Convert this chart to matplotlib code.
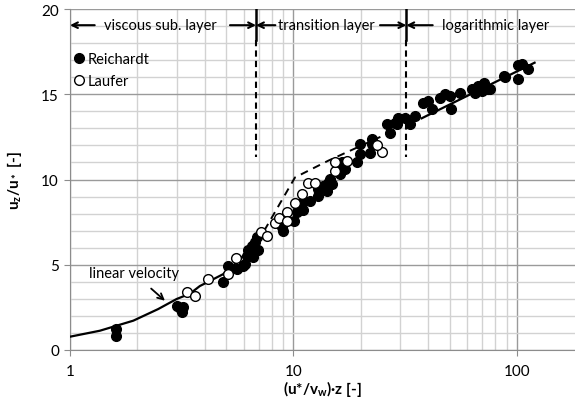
import matplotlib
matplotlib.use("Agg")
import matplotlib.pyplot as plt
from matplotlib.ticker import FixedLocator, NullFormatter

plt.rcParams['font.family'] = ['Lato', 'DejaVu Sans']
plt.rcParams['mathtext.default'] = 'regular'

# Reichardt measurements (u*/v_w)z vs u_z/u*
reich_x = [1.6, 1.6, 3.0, 3.16, 3.22, 3.1, 4.85, 5.11, 5.57, 5.96, 6.07, 6.18, 6.28, 6.61,
           6.96, 6.5, 6.73, 6.84, 8.95, 10.08, 10.4, 8.86, 10.51, 11.06, 10.88, 11.85,
           12.91, 12.91, 14.08, 13.59, 14.31, 14.56, 14.82, 16.14, 16.43, 17.0, 16.43,
           19.18, 19.84, 19.84, 21.98, 22.38, 22.38, 26.1, 27.0, 28.5, 29.4, 28.95, 31.5,
           33.2, 35.0, 38.1, 40.1, 41.5, 45.2, 47.6, 50.1, 50.5, 55.6, 62.7, 64.9, 67.1,
           68.3, 71.2, 74.4, 88.4, 69.5, 75.7, 87.5, 101.4, 101.4, 105, 112.3]
reich_y = [1.23, 0.84, 2.6, 2.2, 2.5, 2.45, 3.97, 4.9, 4.75, 4.94, 5.04, 5.52, 5.88, 5.43,
           5.88, 6.11, 6.34, 6.6, 6.99, 7.57, 8.1, 7.19, 8.22, 8.22, 8.65, 8.75,
           9.04, 9.43, 9.33, 9.63, 9.82, 10.02, 9.72, 10.31, 10.8, 10.6, 11.03,
           11.0, 11.52, 12.07, 11.58, 12.07, 12.36, 13.24, 12.75, 13.34, 13.63, 13.24, 13.63,
           13.24, 13.73, 14.51, 14.6, 14.16, 14.8, 15.0, 14.9, 14.16, 15.06, 15.29, 15.1, 15.48,
           15.29, 15.68, 15.33, 16.03, 15.19, 15.33, 16.07, 15.88, 16.7, 16.75, 16.46]

# Laufer measurements
laufer_x = [3.35, 3.62, 4.16, 5.11, 5.51, 7.15, 7.63, 8.27, 8.64, 9.32, 9.32, 10.15,
            10.88, 11.65, 12.48, 15.34, 15.34, 17.3, 24.8, 23.56]
laufer_y = [3.38, 3.18, 4.16, 4.45, 5.39, 6.95, 6.7, 7.44, 7.72, 8.07, 7.57, 8.61,
            9.14, 9.82, 9.82, 10.5, 11.0, 11.09, 11.64, 12.01]

# viscous sub-layer curve
visc_x = [1.0, 1.36, 1.92, 2.48, 3.0, 3.44, 3.81, 4.85, 5.47, 6.2, 6.8]
visc_y = [0.78, 1.13, 1.72, 2.40, 2.99, 3.3, 3.75, 4.45, 5.04, 5.75, 6.35]

# transition layer curve
trans_x = [7.4, 10.16, 14.3, 24.5]
trans_y = [7.0, 10.12, 11.1, 12.5]

# logarithmic layer line
log_x = [37.5, 120]
log_y = [13.59, 16.85]

# layer boundaries
bounds = [6.8, 32]

fig = plt.figure(figsize=(5.75, 4.02), dpi=100)
ax = fig.add_axes([70 / 575, 1 - 351 / 402, 1 - 70 / 575, (351 - 10) / 402])

ax.set_xscale('log')
ax.set_xlim(1, 182)
ax.set_ylim(0, 20)

major_x = [1, 10, 100]
minor_x = [m * d for d in (1, 10, 100) for m in range(2, 10)]
ax.xaxis.set_major_locator(FixedLocator(major_x))
ax.xaxis.set_minor_locator(FixedLocator(minor_x))
ax.xaxis.set_minor_formatter(NullFormatter())
ax.set_xticklabels(['1', '10', '100'])
ax.set_yticks([0, 5, 10, 15, 20])
ax.set_yticks(range(0, 21), minor=True)

ax.grid(True, which='major', color='#9a9a9a', linewidth=1.0)
ax.grid(True, which='minor', color='#d2d2d2', linewidth=1.0)
ax.set_axisbelow(True)
for s in ('top', 'right'):
    ax.spines[s].set_visible(False)
for s in ('left', 'bottom'):
    ax.spines[s].set_color('#8c8c8c')
ax.tick_params(which='major', length=4, color='#8c8c8c', labelsize=11, pad=4)
ax.tick_params(which='minor', length=0)
ax.tick_params(axis='x', pad=6)

ax.plot(visc_x, visc_y, color='black', lw=1.6, zorder=3)
ax.plot(trans_x, trans_y, color='black', lw=1.4, ls=(0, (4, 3)), zorder=3)
ax.plot(log_x, log_y, color='black', lw=1.6, zorder=3)

ax.plot(reich_x, reich_y, 'o', color='black', ms=7, label='Reichardt', zorder=4)
ax.plot(laufer_x, laufer_y, 'o', mfc='white', mec='black', mew=1.0, ms=7,
        label='Laufer', zorder=4)

for b in bounds:
    ax.plot([b, b], [20, 18.2], color='black', lw=1.8, zorder=3)
    ax.plot([b, b], [18.2, 11.3], color='black', lw=1.5, ls=(0, (3, 2)), zorder=3)

# layer arrows and labels
arr = dict(arrowstyle='->', color='black', lw=1.5, shrinkA=0, shrinkB=0)
ya = 19.05
for x0, x1 in [(1.29, 1.0), (5.2, 6.8), (8.3, 6.8), (24.4, 32), (42, 32)]:
    ax.annotate('', xy=(x1, ya), xytext=(x0, ya), arrowprops=arr)
ax.text(2.55, ya, 'viscous sub. layer', ha='center', va='center', fontsize=10.5)
ax.text(14.1, ya, 'transition layer', ha='center', va='center', fontsize=10.5)
ax.text(80, ya, 'logarithmic layer', ha='center', va='center', fontsize=10.5)

ax.annotate('linear velocity', xy=(2.66, 2.89), xytext=(1.93, 4.5),
            ha='center', va='center', fontsize=10.5,
            arrowprops=dict(arrowstyle='->', color='black', lw=1.3,
                            shrinkA=6, shrinkB=0))

ax.legend(loc='upper left', bbox_to_anchor=(-0.006, 0.89), frameon=False,
          fontsize=10.5, handlelength=0.8, handletextpad=0.2, labelspacing=0.5,
          borderaxespad=0.0)

ax.set_xlabel('(u*/v$_w$)·z [-]', fontsize=11, fontweight='bold', labelpad=0)
ax.set_ylabel('u$_z$/u$_*$ [-]', fontsize=11, fontweight='bold', labelpad=12)

fig.savefig('out.png', dpi=100)
